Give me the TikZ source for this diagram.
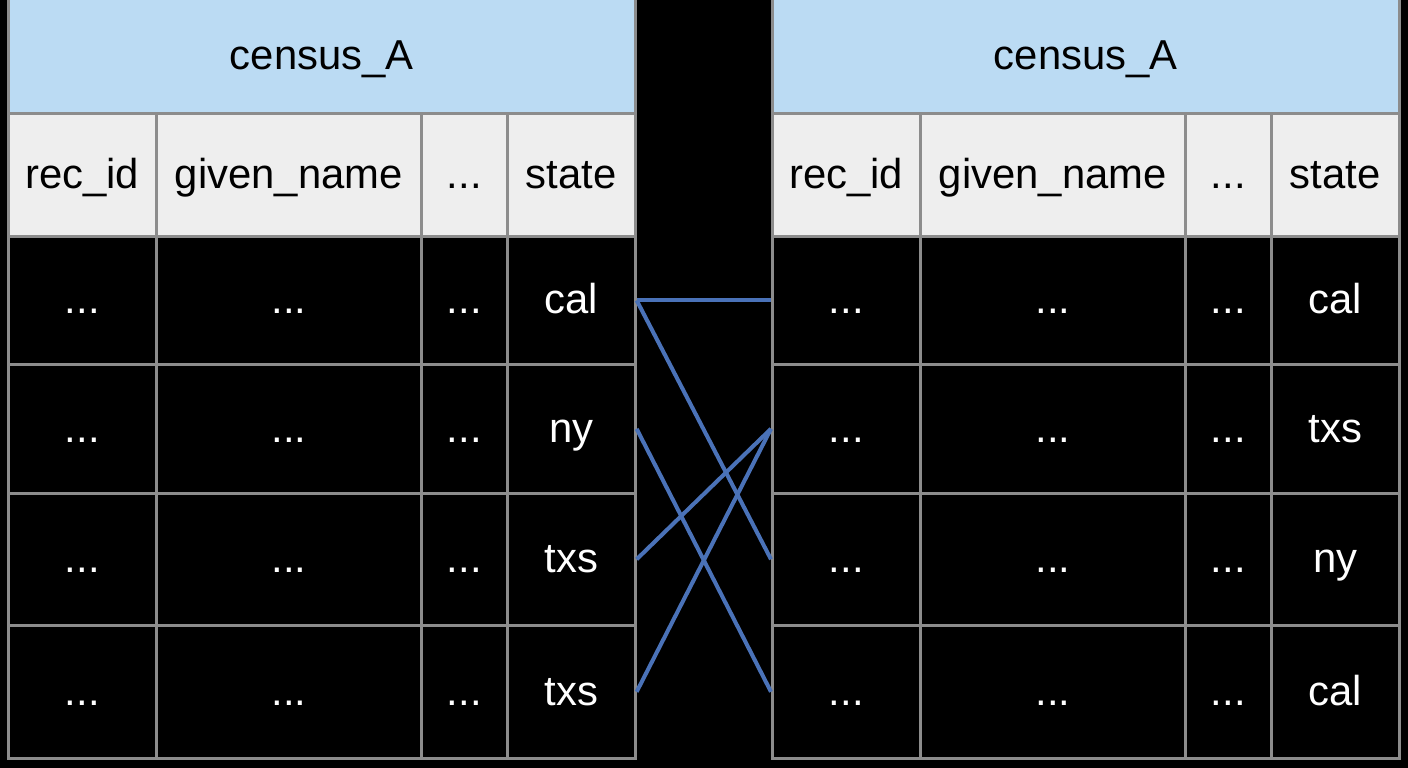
\documentclass[tikz,border=0pt]{standalone}
\usepackage{fontspec}
\setmainfont{Liberation Sans}
\usetikzlibrary{positioning}

\definecolor{titleblue}{HTML}{BBDBF3}
\definecolor{headgray}{HTML}{EEEEEE}
\definecolor{gridgray}{HTML}{8C8C8C}
\definecolor{linkblue}{HTML}{4A72B8}

\tikzset{
  cell/.style={draw=gridgray, line width=1.5pt, inner sep=0pt, anchor=north west,
    text height=16pt, text depth=0.5pt},
  titlecell/.style={cell, fill=titleblue, text=black, minimum height=2.29cm},
  headcell/.style={cell, fill=headgray, text=black, minimum height=2.46cm},
  datacell/.style={cell, fill=black, text=white},
  link/.style={draw=linkblue, line width=2.3pt}
}

\newcommand{\skipped}{...}

% one census table: prefix, left edge, title, states of rows 1-4
\newcommand{\censustable}[7]{
  \node[titlecell, minimum width=12.54cm] (#1-title) at (#2,0.05) {#3};
  \foreach \w/\x/\t [count=\c] in {2.96/0/rec\_id, 5.30/2.96/given\_name, 1.72/8.26/\skipped, 2.56/9.98/state} {
    \node[headcell, minimum width=\w cm] (#1-h\c) at ({#2+\x},-2.24) {\t};
    \foreach \y/\h/\s [count=\r] in {-4.70/2.56/#4, -7.26/2.58/#5, -9.84/2.64/#6, -12.48/2.66/#7} {
      \ifnum\c=4
        \node[datacell, minimum width=\w cm, minimum height=\h cm] (#1-r\r c\c) at ({#2+\x},\y) {\s};
      \else
        \node[datacell, minimum width=\w cm, minimum height=\h cm] (#1-r\r c\c) at ({#2+\x},\y) {\skipped};
      \fi
    }
  }
}

\begin{document}
\begin{tikzpicture}[font=\fontsize{23.8}{28}\selectfont]
  \fill[black] (0,0) rectangle (28.16,-15.36);
  \useasboundingbox (0,0) rectangle (28.16,-15.36);

  \censustable{L}{0.14}{census\_A}{cal}{ny}{txs}{txs}
  \censustable{R}{15.42}{census\_A}{cal}{txs}{ny}{cal}

  % record links between the state columns
  \draw[link] (L-r1c4.east) -- (R-r1c1.west);
  \draw[link] (L-r1c4.east) -- (R-r3c1.west);
  \draw[link] (L-r2c4.east) -- (R-r4c1.west);
  \draw[link] (L-r3c4.east) -- (R-r2c1.west);
  \draw[link] (L-r4c4.east) -- (R-r2c1.west);
\end{tikzpicture}
\end{document}
